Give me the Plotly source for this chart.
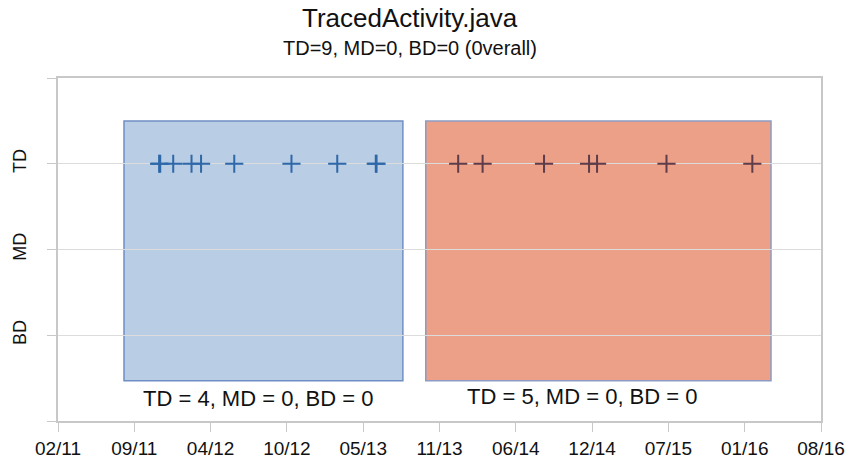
import plotly.graph_objects as go

# Category levels on the y axis
levels = ["", "BD", "MD", "TD", ""]

# Commit dates (all on the TD row)
first_dates = [
    "2011-11-18", "2011-11-21", "2011-12-25", "2012-02-11", "2012-03-07",
    "2012-06-02", "2012-10-30", "2013-02-27", "2013-06-08", "2013-06-10",
]
second_dates = [
    "2014-01-10", "2014-03-15", "2014-08-23", "2014-12-19", "2015-01-09",
    "2015-07-10", "2016-02-20",
]

# Period boxes (start, end) and their summary labels
periods = [("2011-08-18", "2013-08-18"), ("2013-10-17", "2016-04-09")]
period_labels = ["TD = 4, MD = 0, BD = 0", "TD = 5, MD = 0, BD = 0"]
label_dates = ["2012-08-03", "2014-11-30"]

# x tick positions (every 200 days) and labels
tick_dates = [
    "2011-02-26", "2011-09-14", "2012-04-01", "2012-10-18", "2013-05-06",
    "2013-11-22", "2014-06-10", "2014-12-27", "2015-07-15", "2016-01-31",
    "2016-08-18",
]
tick_text = ["02/11", "09/11", "04/12", "10/12", "05/13", "11/13",
             "06/14", "12/14", "07/15", "01/16", "08/16"]

title = "TracedActivity.java"
subtitle = "TD=9, MD=0, BD=0 (0verall)"

fills = ["rgba(79,129,189,0.4)", "rgba(220,82,39,0.55)"]
borders = ["#6f8fc4", "#8c9cc2"]
marker_colors = ["#2f68a8", "#5e3c4a"]
label_y = [0.26, 0.29]

fig = go.Figure()

for (start, end), fc, bc in zip(periods, fills, borders):
    fig.add_shape(
        type="rect", xref="x", yref="y",
        x0=start, x1=end, y0=0.47, y1=3.5,
        fillcolor=fc, line=dict(color=bc, width=1.5), layer="below",
    )

for dates, mc in zip([first_dates, second_dates], marker_colors):
    fig.add_trace(
        go.Scatter(
            x=dates, y=[3] * len(dates), mode="markers",
            marker=dict(symbol="cross-thin", size=13,
                        line=dict(color=mc, width=2)),
            showlegend=False,
        )
    )

for txt, xd, yv in zip(period_labels, label_dates, label_y):
    fig.add_annotation(
        x=xd, y=yv, xref="x", yref="y", text=txt, showarrow=False,
        font=dict(size=22, color="#111111"),
    )

fig.add_annotation(
    x=0.461, y=1.0, xref="paper", yref="paper", yshift=60, yanchor="middle",
    text=title, showarrow=False, font=dict(size=26, color="#111111"),
)
fig.add_annotation(
    x=0.461, y=1.0, xref="paper", yref="paper", yshift=30, yanchor="middle",
    text=subtitle, showarrow=False, font=dict(size=20, color="#111111"),
)

fig.update_layout(
    width=849,
    height=460,
    margin=dict(l=58, r=28, t=78, b=39, autoexpand=False),
    paper_bgcolor="white",
    plot_bgcolor="white",
    font=dict(family="Liberation Sans, Arial, sans-serif", color="#111111"),
    xaxis=dict(
        type="date",
        range=[tick_dates[0], tick_dates[-1]],
        tickvals=tick_dates,
        ticktext=tick_text,
        ticks="outside", ticklen=9, tickcolor="#c8c8c8",
        showgrid=False, zeroline=False,
        showline=True, linecolor="#c8c8c8", linewidth=1.5, mirror=True,
        tickfont=dict(size=19),
        automargin=False,
    ),
    yaxis=dict(
        range=[0, 4],
        tickvals=[0, 1, 2, 3, 4],
        ticktext=levels,
        tickangle=-90,
        ticks="outside", ticklen=9, tickcolor="#c8c8c8",
        showgrid=True, gridcolor="#dcdcdc", gridwidth=1,
        zeroline=False,
        showline=True, linecolor="#c8c8c8", linewidth=1.5, mirror=True,
        tickfont=dict(size=18),
        ticklabelstandoff=14,
        automargin=False,
    ),
)

# drop the default page margin so the figure sits at the window's corner
fig.write_html(
    "out.html",
    config={"displayModeBar": False},
    post_script="document.body.style.margin='0';",
)
